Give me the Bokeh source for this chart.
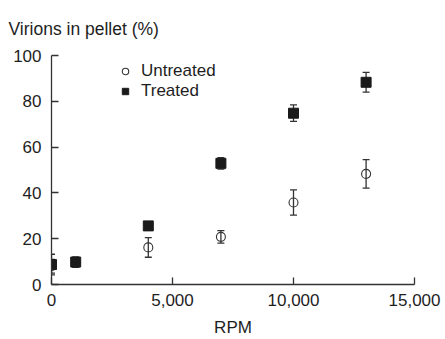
from bokeh.plotting import figure
from bokeh.models import (Range1d, FixedTicker, NumeralTickFormatter,
                          Whisker, ColumnDataSource, TeeHead, Legend, LegendItem)
from bokeh.embed import file_html
from bokeh.resources import INLINE

# ---- data ----
rpm = [0, 1000, 4000, 7000, 10000, 13000]
untreated = [8.0, 9.5, 16.2, 20.8, 35.8, 48.3]
untreated_err = [3.0, 2.0, 4.3, 2.7, 5.5, 6.2]
treated = [8.7, 9.8, 25.6, 52.9, 74.8, 88.3]
treated_err = [4.5, 2.2, 1.5, 2.5, 3.6, 4.3]
x_ticks = [0, 5000, 10000, 15000]
y_ticks = [0, 20, 40, 60, 80, 100]

FONT = "Liberation Sans"
INK = "#1e1e1e"

src_u = ColumnDataSource(dict(x=rpm, y=untreated,
                              lo=[v - e for v, e in zip(untreated, untreated_err)],
                              hi=[v + e for v, e in zip(untreated, untreated_err)]))
src_t = ColumnDataSource(dict(x=rpm, y=treated,
                              lo=[v - e for v, e in zip(treated, treated_err)],
                              hi=[v + e for v, e in zip(treated, treated_err)]))

p = figure(width=445, height=339, output_backend="svg", toolbar_location=None,
           x_range=Range1d(0, 15000), y_range=Range1d(0, 100),
           min_border_left=51, min_border_right=31, min_border_top=54,
           min_border_bottom=54)
p.outline_line_color = None
p.grid.grid_line_color = None
p.background_fill_color = "white"
p.border_fill_color = "white"

p.title.text = "Virions in pellet (%)"
p.title.align = "left"
p.title.offset = -43
p.title.standoff = 33
p.title.text_font = FONT
p.title.text_font_size = "17.5px"
p.title.text_font_style = "normal"
p.title.text_color = INK

for ax in (p.xaxis[0], p.yaxis[0]):
    ax.axis_line_color = "#333333"
    ax.axis_line_width = 1.3
    ax.major_tick_line_color = "#333333"
    ax.major_tick_line_width = 1.3
    ax.major_tick_in = 7
    ax.major_tick_out = 0
    ax.minor_tick_line_color = None
    ax.major_label_text_font = FONT
    ax.major_label_text_font_size = "17px"
    ax.major_label_text_color = INK

p.xaxis.ticker = FixedTicker(ticks=x_ticks)
p.xaxis.formatter = NumeralTickFormatter(format="0,0")
p.xaxis.major_label_standoff = 9
p.xaxis.axis_label = "RPM"
p.xaxis.axis_label_text_font = FONT
p.xaxis.axis_label_text_font_size = "17px"
p.xaxis.axis_label_text_font_style = "normal"
p.xaxis.axis_label_text_color = INK
p.xaxis.axis_label_standoff = 9
p.yaxis.ticker = FixedTicker(ticks=y_ticks)
p.yaxis.major_label_standoff = 10

# error bars
for src in (src_t, src_u):
    w = Whisker(source=src, base="x", lower="lo", upper="hi",
                line_color="#333333", line_width=1.3,
                upper_head=TeeHead(size=7, line_color="#333333", line_width=1.3),
                lower_head=TeeHead(size=7, line_color="#333333", line_width=1.3))
    p.add_layout(w)

r_u = p.scatter("x", "y", source=src_u, marker="circle", size=9,
                fill_color=None, line_color="#333333", line_width=1.1)
r_t = p.scatter("x", "y", source=src_t, marker="square", size=10,
                fill_color="#1a1a1a", line_color="#1a1a1a", line_width=1)

legend = Legend(items=[LegendItem(label="Untreated", renderers=[r_u]),
                       LegendItem(label="Treated", renderers=[r_t])],
                location=(66, 183), orientation="vertical",
                border_line_color=None, background_fill_alpha=0,
                padding=0, margin=0, spacing=0,
                glyph_width=16, glyph_height=18, label_height=18,
                label_standoff=8, label_text_font=FONT,
                label_text_font_size="17px", label_text_color=INK,
                label_text_baseline="middle")
p.add_layout(legend, "center")

open("out.html", "w").write(file_html(p, INLINE))
